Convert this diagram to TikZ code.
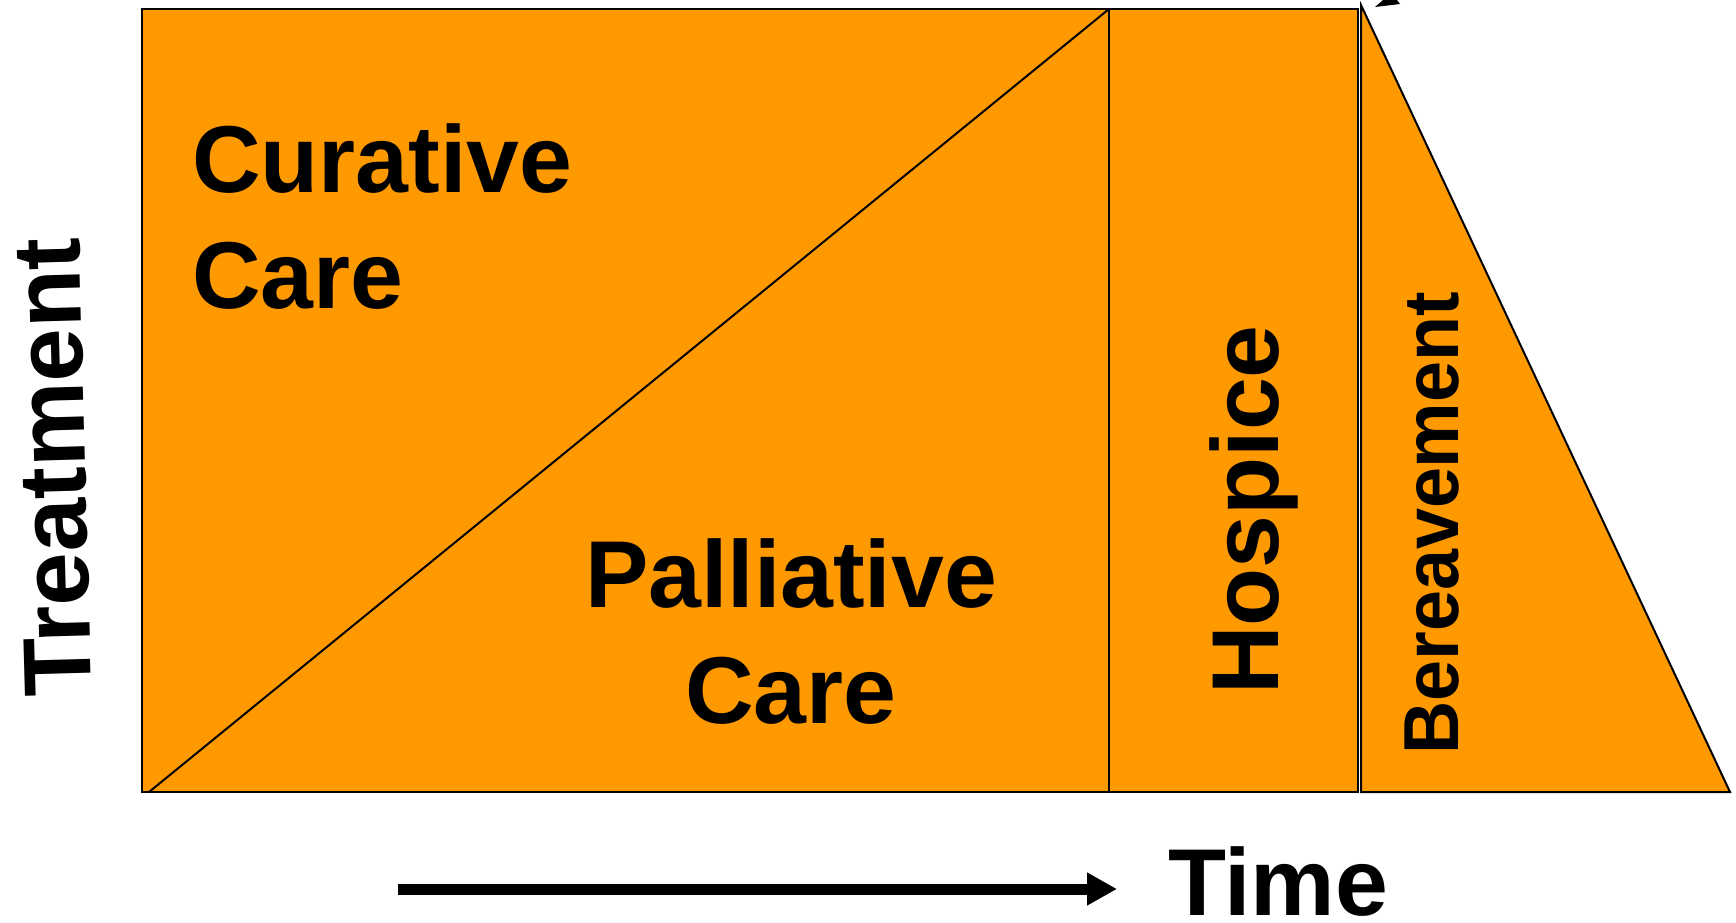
\documentclass[tikz,border=0pt]{standalone}
\usepackage{fontspec}
\setmainfont{Liberation Sans}
\usetikzlibrary{arrows.meta}
\definecolor{careorange}{RGB}{255,153,0}
\begin{document}
\begin{tikzpicture}[x=1pt,y=-1pt,
  region/.style={fill=careorange,draw=black,line width=2pt,line join=miter},
  bigtext/.style={inner sep=0pt,font=\fontsize{95}{114}\selectfont\bfseries},
  midtext/.style={inner sep=0pt,font=\fontsize{78}{90}\selectfont\bfseries}]
\useasboundingbox[fill=white] (0,0) rectangle (1736,922);
% regions
\path[region] (142,9) rectangle (1109,792);
\draw[line width=2pt] (149,792) -- (1109,9);
\path[region] (1109,9) rectangle (1358,792);
\path[region] (1361,5) -- (1361,792) -- (1730,792) -- cycle;
% small mark at top
\fill[black] (1375,7) -- (1400,4) -- (1397,0) -- (1383,0) -- cycle;
% texts
\node[bigtext,anchor=base west] (cur1) at (192,192) {Curative};
\node[bigtext,anchor=base west] (cur2) at (192,308) {Care};
\node[bigtext,anchor=base] (pal1) at (791,607) {Palliative};
\node[bigtext,anchor=base] (pal2) at (791,723) {Care};
\node[bigtext,anchor=base west,rotate=90] (hosp) at (1278,695) {Hospice};
\node[midtext,anchor=base west,rotate=90] (ber) at (1458,755) {\scalebox{0.945}[1]{Bereavement}};
\node[bigtext,anchor=base west,rotate=91.6,font=\fontsize{96}{114}\selectfont\bfseries] (treat) at (92,696) {Treatment};
\node[bigtext,anchor=base west] (time) at (1168,915) {Time};
% arrow
\coordinate (a0) at (398,889);
\coordinate (a1) at (1117,889);
\draw[line width=11pt,-{Triangle[length=30pt,width=31pt]}] (a0) -- (a1);
\end{tikzpicture}
\end{document}
